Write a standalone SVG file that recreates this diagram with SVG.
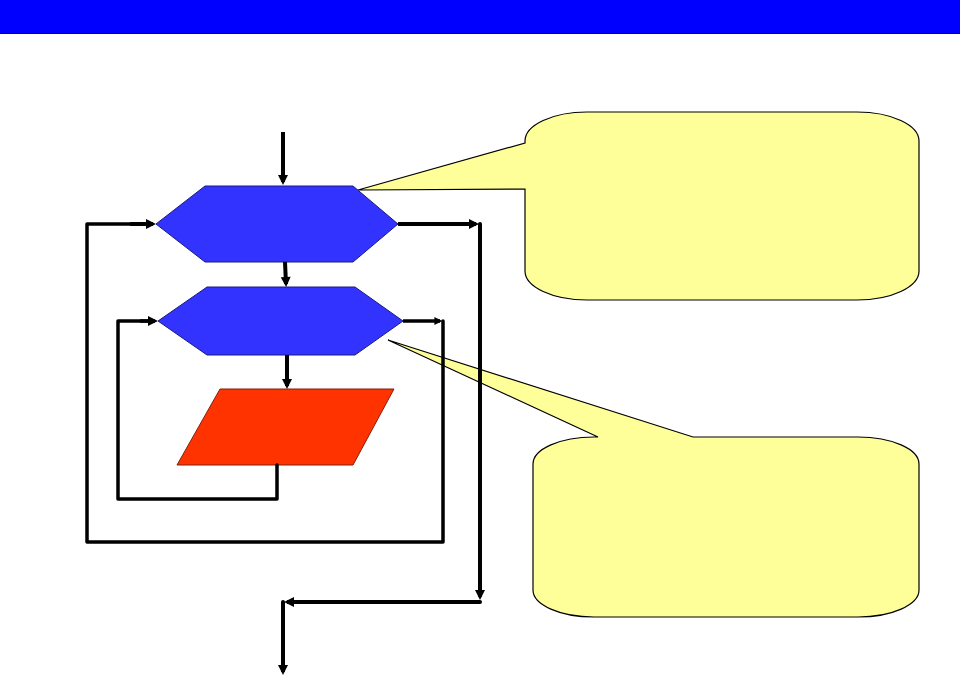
<svg xmlns="http://www.w3.org/2000/svg" width="960" height="678" viewBox="0 0 960 678">
<style>
.band{fill:#0000FF}
.hex{fill:#3333FF;stroke:#1a1a80;stroke-width:1}
.para{fill:#FF3300;stroke:#802010;stroke-width:1}
.callout{fill:#FFFF99;stroke:#000;stroke-width:1.2;stroke-linejoin:miter}
.c{fill:none;stroke:#000;stroke-width:4;stroke-linejoin:round;stroke-linecap:round}
.ci{fill:none;stroke:#000;stroke-width:3.5;stroke-linejoin:round;stroke-linecap:round}
.a{stroke-linecap:butt}
</style>
<defs>
<marker id="ah" viewBox="0 0 10 10" refX="7" refY="5" markerWidth="11" markerHeight="10" markerUnits="userSpaceOnUse" orient="auto"><path d="M0,0 L10,5 L0,10 Z" fill="#000"/></marker>
<marker id="ahs" viewBox="0 0 10 10" refX="7" refY="5" markerWidth="9" markerHeight="8" markerUnits="userSpaceOnUse" orient="auto"><path d="M0,0 L10,5 L0,10 Z" fill="#000"/></marker>
</defs>
<rect class="band" x="0" y="0" width="960" height="34"/>
<line x1="0" y1="33.5" x2="960" y2="33.5" stroke="#00008a" stroke-width="1"/>
<g id="callout1">
<path class="callout" d="M587,112 H857 A62 29 0 0 1 919,141 V271 A62 29 0 0 1 857,300 H587 A62 29 0 0 1 525,271 V189 L358,190 L525,143 V141 A62 29 0 0 1 587,112 Z"/>
</g>
<g id="callout2">
<path class="callout" d="M598,437 L388,340 L693,437 H858 A61 27 0 0 1 919,464 V590 A61 27 0 0 1 858,617 H594 A61 27 0 0 1 533,590 V464 A61 27 0 0 1 594,437 Z"/>
</g>
<g id="hex1">
<polygon class="hex" points="205,186 353,186 398,224 353,262 205,262 156,224"/>
</g>
<g id="hex2">
<polygon class="hex" points="207,287 355,287 403,321 355,355 207,355 158,321"/>
</g>
<g id="io">
<polygon class="para" points="220,389 394,389 353,465 177,465"/>
</g>
<g id="connectors">
<path class="c a" d="M283,132 V182" marker-end="url(#ah)"/>
<path class="c a" d="M285,262 L286,284" marker-end="url(#ah)"/>
<path class="c a" d="M287,355 V386" marker-end="url(#ah)"/>
<path class="ci" d="M277,465 V499 H118 V321 H150"/>
<path class="ci a" d="M140,321 H155" marker-end="url(#ah)"/>
<path class="ci a" d="M403,321 H440" marker-end="url(#ahs)"/>
<path class="ci" d="M443,321 V542 H87 V224 H140"/>
<path class="c a" d="M130,224 H153" marker-end="url(#ah)"/>
<path class="c a" d="M398,224 H476" marker-end="url(#ah)"/>
<path class="c" d="M480,224 V590"/>
<path class="c a" d="M480,580 V597" marker-end="url(#ah)"/>
<path class="c" d="M480,602 H295"/>
<path class="c a" d="M300,602 H287" marker-end="url(#ah)"/>
<path class="c" d="M283,602 V660"/>
<path class="c a" d="M283,650 V672" marker-end="url(#ah)"/>
</g>
</svg>
